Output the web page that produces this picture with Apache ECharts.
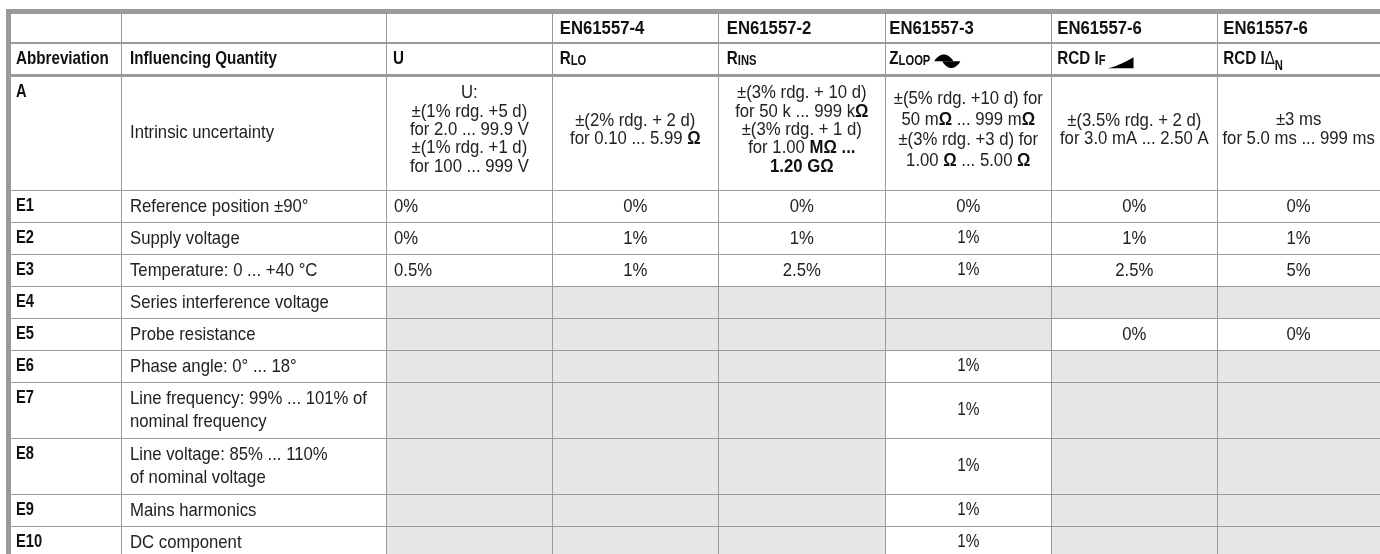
<!DOCTYPE html>
<html>
<head>
<meta charset="utf-8">
<script src="https://cdn.jsdelivr.net/npm/echarts@6/dist/echarts.min.js"></script>
<style>
html,body{margin:0;padding:0;background:#ffffff;}
#chart{width:1380px;height:554px;}
</style>
</head>
<body>
<div id="chart"></div>
<script>
// ---------------- data ----------------
const standards = ['', '', '', 'EN61557-4', 'EN61557-2', 'EN61557-3', 'EN61557-6', 'EN61557-6'];
const headerLabels = [
  [['Abbreviation', 'b']],
  [['Influencing Quantity', 'b']],
  [['U', 'b']],
  [['R', 'b'], ['LO', 'sc']],
  [['R', 'b'], ['INS', 'sc']],
  [['Z', 'b'], ['LOOP', 'sc'], ['', 'sine']],
  [['RCD I', 'b'], ['F', 'sc'], ['', 'ramp']],
  [['RCD I', 'b'], ['\u0394', 'r'], ['N', 'sub']]
];
const codes = ['A', 'E1', 'E2', 'E3', 'E4', 'E5', 'E6', 'E7', 'E8', 'E9', 'E10'];
const quantities = [
  'Intrinsic uncertainty',
  'Reference position \u00b190\u00b0',
  'Supply voltage',
  'Temperature: 0 ... +40 \u00b0C',
  'Series interference voltage',
  'Probe resistance',
  'Phase angle: 0\u00b0 ... 18\u00b0',
  'Line frequency: 99% ... 101% of\nnominal frequency',
  'Line voltage: 85% ... 110%\nof nominal voltage',
  'Mains harmonics',
  'DC component'
];
// null = shaded (not applicable) cell
const valuesU = ['U:\n\u00b1(1% rdg. +5 d)\nfor 2.0 ... 99.9 V\n\u00b1(1% rdg. +1 d)\nfor 100 ... 999 V',
  '0%', '0%', '0.5%', null, null, null, null, null, null, null];
const valuesRlo = ['\u00b1(2% rdg. + 2 d)\nfor 0.10 ... 5.99 {o|\u03a9}',
  '0%', '1%', '1%', null, null, null, null, null, null, null];
const valuesRins = ['\u00b1(3% rdg. + 10 d)\nfor 50 k ... 999 k{o|\u03a9}\n\u00b1(3% rdg. + 1 d)\nfor 1.00 {o|M\u03a9 ...}\n{o|1.20 G\u03a9}',
  '0%', '1%', '2.5%', null, null, null, null, null, null, null];
const valuesZloop = ['\u00b1(5% rdg. +10 d) for\n50 m{o|\u03a9} ... 999 m{o|\u03a9}\n\u00b1(3% rdg. +3 d) for\n1.00 {o|\u03a9} ... 5.00 {o|\u03a9}',
  '0%', '{s|1%}', '{s|1%}', null, null, '{s|1%}', '{s|1%}', '{s|1%}', '{s|1%}', '{s|1%}'];
const valuesIf = ['\u00b1(3.5% rdg. + 2 d)\nfor 3.0 mA ... 2.50 A',
  '0%', '1%', '2.5%', null, '0%', null, null, null, null, null];
const valuesIdn = ['\u00b13 ms\nfor 5.0 ms ... 999 ms',
  '0%', '1%', '5%', null, '0%', null, null, null, null, null];
const valueCols = [valuesU, valuesRlo, valuesRins, valuesZloop, valuesIf, valuesIdn];

// ---------------- layout / style ----------------
const FONT = '"Liberation Sans", Arial, sans-serif';
const SX_BODY = 0.88, SX_LABEL = 0.8, SX_EN = 0.88, SX_CODE = 0.84; // horizontal condensing of the text
const TEXT = '#222222', HEAD = '#111111', SHADE = '#e6e6e6', LINE = '#9a9a9a';
const colEdges = [11, 121, 386.5, 552.3, 718.3, 885.3, 1051.3, 1217.3, 1380];
const rowEdges = [14, 42.5, 75.5, 190, 222, 254, 286, 318, 350, 382, 438, 494, 526, 558];
const headerPad = [5, 9, 6.5, 7.5, 8.5, 4, 6, 6];
const introLineHeight = [0, 0, 18.3, 18.3, 18.3, 20.5, 18.3, 19];
const HEAD_SIZE = 19, BODY_SIZE = 19, CODE_SIZE = 17.5;
const segStyle = {
  b:   {size: 19, weight: 'bold', dy: 0},
  sc:  {size: 14, weight: 'bold', dy: 0},
  r:   {size: 19, weight: 'normal', dy: 0},
  sub: {size: 14, weight: 'bold', dy: 5}
};

const mctx = document.createElement('canvas').getContext('2d');
function textWidth(font, t) { mctx.font = font; return mctx.measureText(t).width; }

function makeRich(lh) {
  return {
    o: {fontSize: BODY_SIZE, fontFamily: FONT, fontWeight: 'bold', fill: HEAD, lineHeight: lh},
    s: {fontSize: 17.5, fontFamily: FONT, fontWeight: 'normal', fill: TEXT, lineHeight: lh}
  };
}
function condensedText(px, py, sx, style) {
  style.x = 0; style.y = 0;
  return {type: 'text', x: px, y: py, scaleX: sx, scaleY: 1, style: style};
}

const cells = [];
for (let r = 0; r < rowEdges.length - 1; r++) {
  for (let c = 0; c < colEdges.length - 1; c++) cells.push([c, r]);
}
const lineItems = [];
for (let r = 0; r < rowEdges.length - 1; r++) lineItems.push([0, r]);
for (let c = 0; c < colEdges.length - 1; c++) lineItems.push([1, c]);

function renderCell(params, api) {
  const col = api.value(0), row = api.value(1);
  const a = api.coord([colEdges[col], rowEdges[row]]);
  const b = api.coord([colEdges[col + 1], rowEdges[row + 1]]);
  const x = a[0], y = a[1], w = b[0] - a[0], h = b[1] - a[1];
  let content, kind;
  if (row === 0) { content = standards[col]; kind = 'en'; }
  else if (row === 1) { content = headerLabels[col]; kind = 'label'; }
  else {
    const r = row - 2;
    if (col === 0) { content = codes[r]; kind = 'code'; }
    else if (col === 1) { content = quantities[r]; kind = 'qty'; }
    else { content = valueCols[col - 2][r]; kind = 'val'; }
  }
  const kids = [{
    type: 'rect', shape: {x: x, y: y, width: w, height: h},
    style: {fill: content === null ? SHADE : '#ffffff'}
  }];
  if (content === null || content === '') return {type: 'group', children: kids};

  if (kind === 'en') {
    kids.push(condensedText(x + headerPad[col], y + h / 2 + 0.5, SX_EN, {
      text: content, fontSize: HEAD_SIZE, fontFamily: FONT, fontWeight: 'bold', fill: HEAD,
      align: 'left', verticalAlign: 'middle'
    }));
  } else if (kind === 'label') {
    const base = y + 23;
    let cx = x + headerPad[col];
    content.forEach(function (seg) {
      const t = seg[0], k = seg[1];
      if (k === 'sine') {
        const x0 = cx + 4, mid = base - 4.3, amp = 6.8, pts1 = [], pts2 = [];
        for (let i = 0; i <= 20; i++) {
          const tt = i / 20;
          const s = Math.pow(Math.sin(Math.PI * tt), 0.75);
          pts1.push([x0 + tt * 19, mid - amp * s]);
          pts2.push([x0 + 8 + tt * 18, mid + amp * s]);
        }
        kids.push({type: 'polygon', shape: {points: pts1}, style: {fill: '#000'}});
        kids.push({type: 'polygon', shape: {points: pts2}, style: {fill: '#000'}});
        cx = x0 + 26;
      } else if (k === 'ramp') {
        const x0 = cx + 2, bot = base + 2.8, top = base - 8.2, pts = [[x0, bot], [x0 + 26, bot], [x0 + 26, top]];
        for (let i = 1; i < 10; i++) {
          const tt = 1 - i / 10;
          pts.push([x0 + 26 * tt, bot - (bot - top) * Math.pow(tt, 1.35)]);
        }
        kids.push({type: 'polygon', shape: {points: pts}, style: {fill: '#000'}});
        cx = x0 + 26;
      } else {
        const st = segStyle[k];
        const font = st.weight + ' ' + st.size + 'px ' + FONT;
        kids.push(condensedText(cx, base + st.dy - 0.3465 * st.size, SX_LABEL, {
          text: t, fontSize: st.size, fontFamily: FONT, fontWeight: st.weight, fill: HEAD,
          align: 'left', verticalAlign: 'middle'
        }));
        cx += textWidth(font, t) * SX_LABEL;
      }
    });
  } else if (kind === 'code') {
    kids.push(condensedText(x + 5, y + 16.5, SX_CODE, {
      text: content, fontSize: CODE_SIZE, fontFamily: FONT, fontWeight: 'bold', fill: HEAD,
      align: 'left', verticalAlign: 'middle'
    }));
  } else if (kind === 'qty') {
    kids.push(condensedText(x + 9, y + h / 2 + 0.5, SX_BODY, {
      text: content, fontSize: BODY_SIZE, fontFamily: FONT, fontWeight: 'normal', fill: TEXT,
      lineHeight: 22.5, align: 'left', verticalAlign: 'middle'
    }));
  } else {
    const left = (col === 2 && row > 2);
    const lh = row === 2 ? introLineHeight[col] : 22;
    const cy = row === 2 ? y + h / 2 - 3 : y + h / 2 + 0.5;
    kids.push(condensedText(left ? x + 7.5 : x + w / 2, cy, SX_BODY, {
      text: content, fontSize: BODY_SIZE, fontFamily: FONT, fontWeight: 'normal', fill: TEXT,
      lineHeight: lh, align: left ? 'left' : 'center', verticalAlign: 'middle',
      rich: makeRich(lh)
    }));
  }
  return {type: 'group', children: kids};
}

function renderLine(params, api) {
  const kindV = api.value(0), idx = api.value(1);
  let p0, p1;
  if (kindV === 0) {
    const yy = rowEdges[idx];
    const t = idx === 0 ? 5 : idx === 1 ? 2 : idx === 2 ? 3 : 1;
    const y0 = idx === 0 ? yy - t : Math.round(yy - t / 2);
    p0 = api.coord([idx === 0 ? 6 : colEdges[0], y0]);
    p1 = api.coord([colEdges[colEdges.length - 1], y0 + t]);
  } else {
    const xx = colEdges[idx];
    const t = idx === 0 ? 5 : 1;
    const x0 = idx === 0 ? xx - t : Math.round(xx - t / 2);
    p0 = api.coord([x0, idx === 0 ? 9 : rowEdges[0]]);
    p1 = api.coord([x0 + t, rowEdges[rowEdges.length - 1]]);
  }
  return {type: 'rect', shape: {x: p0[0], y: p0[1], width: p1[0] - p0[0], height: p1[1] - p0[1]},
    style: {fill: LINE}};
}

const chart = echarts.init(document.getElementById('chart'), null, {renderer: 'canvas'});
chart.setOption({
  animation: false,
  backgroundColor: '#ffffff',
  grid: {left: 0, right: 0, top: 0, bottom: 0},
  xAxis: {type: 'value', min: 0, max: 1380, show: false},
  yAxis: {type: 'value', min: 0, max: 554, inverse: true, show: false},
  series: [
    {type: 'custom', renderItem: renderCell, data: cells, z: 1, silent: true},
    {type: 'custom', renderItem: renderLine, data: lineItems, z: 2, silent: true}
  ]
});
</script>
</body>
</html>
